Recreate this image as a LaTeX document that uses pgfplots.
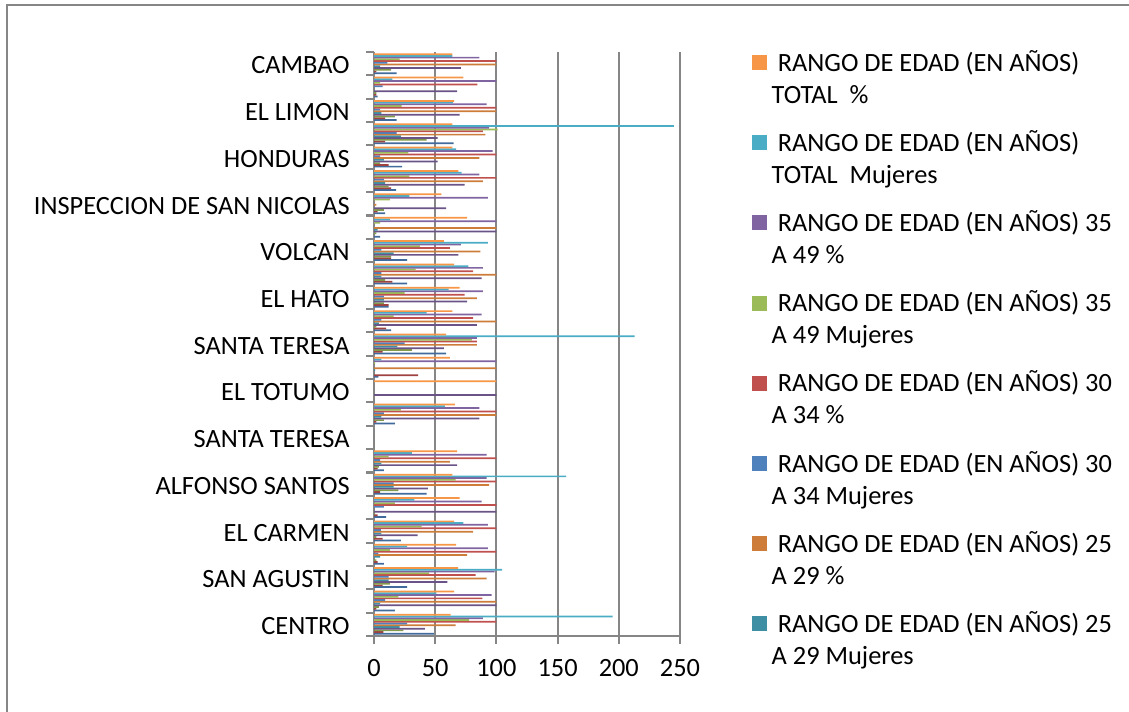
\documentclass[border=0pt]{standalone}
\usepackage{fontspec}
\setmainfont{Carlito}
\usepackage{pgfplots}
\usepackage{pgfplotstable}
\pgfplotsset{compat=1.18}

\definecolor{gridgray}{HTML}{868686}
\definecolor{sA}{HTML}{426B9D}
\definecolor{sB}{HTML}{9F4240}
\definecolor{sC}{HTML}{819B4A}
\definecolor{sD}{HTML}{6A5387}
\definecolor{sE}{HTML}{3E8FA4}
\definecolor{sF}{HTML}{CD7C3A}
\definecolor{sG}{HTML}{4F81BD}
\definecolor{sH}{HTML}{C0504D}
\definecolor{sI}{HTML}{9BBB59}
\definecolor{sJ}{HTML}{8064A2}
\definecolor{sK}{HTML}{4BACC6}
\definecolor{sL}{HTML}{F79646}

% y = category (1 = CENTRO, bottom); s1..s12 = series, bottom to top in each group
\pgfplotstableread{
y  s1   s2  s3  s4   s5  s6   s7   s8    s9    s10   s11   s12
1  49   7.6 24  41.6 21  66.6 27   100   77.7  89    195   62.5
2  17   2   4   100  5   100  9    88.6  20    96    51    65.5
3  27   7   13  60   12  92   12   83    45    98.6  104.6 68.7
4  8    3   2   0    5   76   3.5  100   13    93    27    67
5  22   7   2   35.6 6   81   5.7  100   39    93    73    65.5
6  10   3   1   100  0   0    8    100   17    88    33    70
7  43   5   20  44   16  94   16   100   66.6  92    157   64
8  8    3   4   68   6   62   5    100   12    92    31    68
9  0    0   0   0    0   0    0    0     0     0     0     0
10 17   2   8   86   6   100  8    100   22    86    58    66
11 0    0   0   100  0   0    0    0     0     0     0     100
12 3.5  36  0   0    1   100  0    0     1     100   6     62
13 59   7   31  57   19  84   25   84    80    84    213   59
14 14   10  2   84   4   100  6    81    16    88    43    64
15 12   12  8   76   8   84   8    74    25    89    61    70
16 27   15  9   88   6   100  6    81    34    89    77    65.5
17 27   14  14  69   16  87   6    62    37.5  71    93    57
18 5    0   2   100  3   100  0    0     5     100   13    76
19 9    3   8   59   0   2    0    0     13    93    29    55
20 18   14  12  74   9   89   8    100   29    86    71.5  69
21 23   12  5   52   8   86   5    100   28    97    67    64
22 65   9   43  52   22  91   18.5 89    101   94    245   64
23 18.5 9   17  70   6   100  5    100   22.6  92    64.6  65.5
24 3    2   2   68   0   0    7    84.5  5     100   15    73
25 18.5 2   14  71   5   100  11   100   21    86    64    64
}\datatable

\begin{document}
\begin{tikzpicture}
\path[use as bounding box] (-164.56pt,-33pt) rectangle (332.2pt,279.84pt);
\draw[gridgray, line width=0.6pt] (-161.5pt,-40pt) -- (-161.5pt,277.6pt) -- (340pt,277.6pt);
\begin{axis}[
  scale only axis,
  width=134.64pt, height=256.96pt,
  xbar=0pt, bar width=0.074,
  xmin=0, xmax=250, ymin=0.5, ymax=25.5,
  axis lines*=left,
  axis line style={gridgray, line width=0.9pt, -},
  xtick={0,50,...,250},
  xmajorgrids,
  major grid style={gridgray, line width=0.9pt},
  ytick={1,3,...,25},
  yticklabels={CENTRO,SAN AGUSTIN,EL CARMEN,ALFONSO SANTOS,SANTA TERESA,EL TOTUMO,SANTA TERESA,EL HATO,VOLCAN,INSPECCION DE SAN NICOLAS,HONDURAS,EL LIMON,CAMBAO},
  minor ytick={0.5,1.5,...,25.5},
  tick align=outside,
  major tick length=3.5pt, minor tick length=3.5pt,
  major y tick style={draw=none},
  minor y tick style={gridgray, line width=0.9pt},
  major x tick style={gridgray, line width=0.9pt},
  tick label style={font=\fontsize{11.6}{14}\selectfont},
  /pgf/number format/assume math mode=true,
  xticklabel style={anchor=center, inner sep=0pt, yshift=-10.8pt},
  yticklabel style={anchor=east, inner sep=0pt, xshift=-7pt, yshift=-0.8pt},
  legend style={draw=none, fill=none, at={(1.212,1.0188)}, anchor=north west,
    font=\fontsize{11.6}{14.1}\selectfont, row sep=6.4pt,
    nodes={align=left}},
  legend cell align=left,
  reverse legend,
  legend image code/.code={\fill[#1] (0pt,3.75pt) rectangle (6.6pt,10.35pt);},
]
\addplot[fill=sA, draw=none] table[x=s1, y=y] {\datatable};
\addplot[fill=sB, draw=none] table[x=s2, y=y] {\datatable};
\addplot[fill=sC, draw=none] table[x=s3, y=y] {\datatable};
\addplot[fill=sD, draw=none] table[x=s4, y=y] {\datatable};
\addplot[fill=sE, draw=none] table[x=s5, y=y] {\datatable};
\addplot[fill=sF, draw=none] table[x=s6, y=y] {\datatable};
\addplot[fill=sG, draw=none] table[x=s7, y=y] {\datatable};
\addplot[fill=sH, draw=none] table[x=s8, y=y] {\datatable};
\addplot[fill=sI, draw=none] table[x=s9, y=y] {\datatable};
\addplot[fill=sJ, draw=none] table[x=s10, y=y] {\datatable};
\addplot[fill=sK, draw=none] table[x=s11, y=y] {\datatable};
\addplot[fill=sL, draw=none] table[x=s12, y=y] {\datatable};
\legend{,,,,
  {\hspace*{0.23em}RANGO DE EDAD (EN AÑOS) 25\\A 29 Mujeres},
  {\hspace*{0.23em}RANGO DE EDAD (EN AÑOS) 25\\A 29 \%},
  {\hspace*{0.23em}RANGO DE EDAD (EN AÑOS) 30\\A 34 Mujeres},
  {\hspace*{0.23em}RANGO DE EDAD (EN AÑOS) 30\\A 34 \%},
  {\hspace*{0.23em}RANGO DE EDAD (EN AÑOS) 35\\A 49 Mujeres},
  {\hspace*{0.23em}RANGO DE EDAD (EN AÑOS) 35\\A 49 \%},
  {\hspace*{0.23em}RANGO DE EDAD (EN AÑOS)\\TOTAL\ \ Mujeres},
  {\hspace*{0.23em}RANGO DE EDAD (EN AÑOS)\\TOTAL\ \ \%}}
\end{axis}
\end{tikzpicture}
\end{document}
